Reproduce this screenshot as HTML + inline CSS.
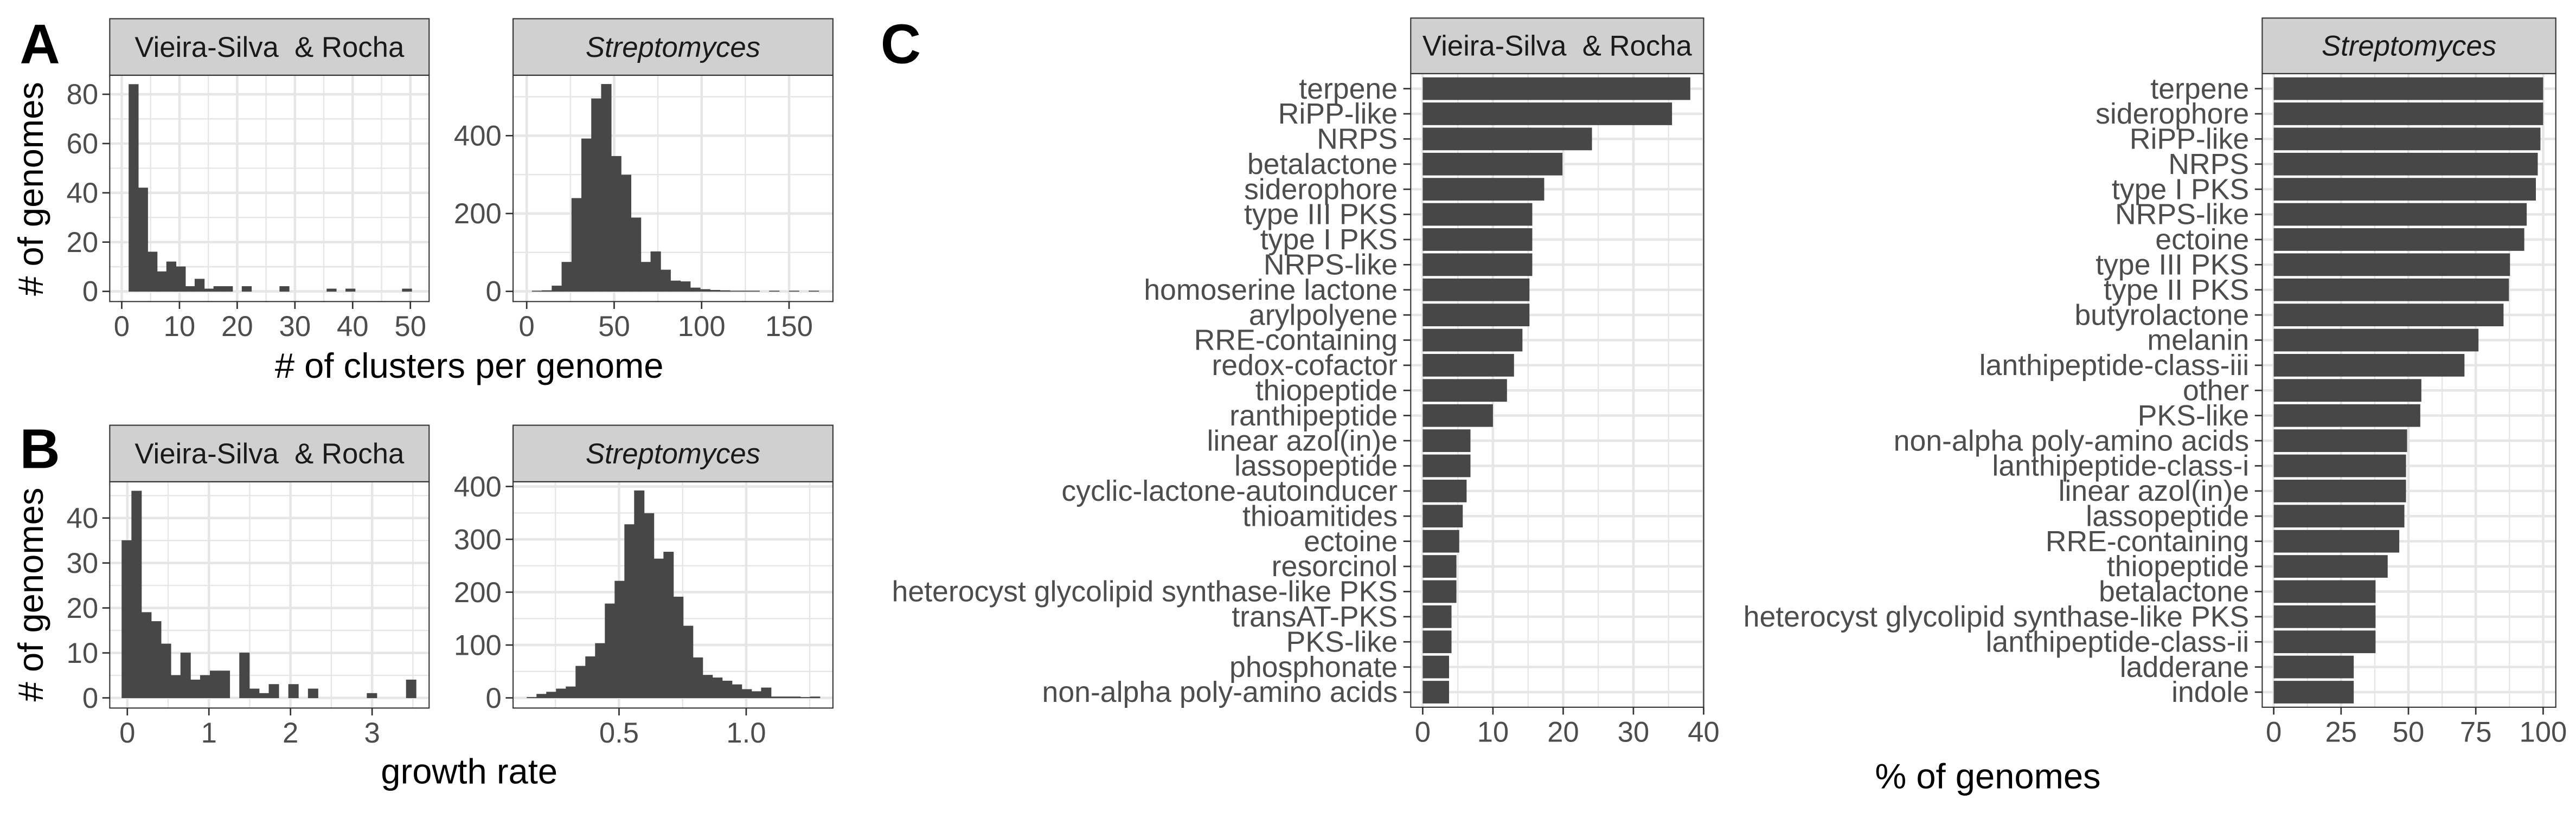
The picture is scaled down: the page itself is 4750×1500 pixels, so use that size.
<!DOCTYPE html>
<html><head><meta charset="utf-8">
<style>
html,body{margin:0;padding:0;background:#fff;}
svg{display:block;}
text{font-family:"Liberation Sans",Arial,sans-serif;white-space:pre;}
</style></head>
<body>
<svg id="fig" xmlns="http://www.w3.org/2000/svg" width="4750" height="1500" viewBox="0 0 1568 495" preserveAspectRatio="none"></svg>
<script>
// ---- Data ----
const aLeftCounts = [84,42,16,8,12,10,2,5,1,2,2,0,2,0,0,0,2,0,0,0,0,1,0,1,0,0,0,0,0,1];
const aRightCounts = [1,2,14,75,239,392,495,532,347,299,189,75,102,55,27,25,9,5,3,2,1,1,1,0,1,0,1,0,1,0];
const bLeftCounts = [35,46,19,17,12,5,10,4,5,6,6,0,10,2,1,3,0,3,0,2,0,0,0,0,0,1,0,0,0,4];
const bRightCounts = [1,7,11,17,21,60,78,103,178,221,328,392,349,263,276,191,136,76,43,38,32,25,16,12,19,2,2,2,1,2];
const cLeftCats = ["terpene","RiPP-like","NRPS","betalactone","siderophore","type III PKS","type I PKS","NRPS-like","homoserine lactone","arylpolyene","RRE-containing","redox-cofactor","thiopeptide","ranthipeptide","linear azol(in)e","lassopeptide","cyclic-lactone-autoinducer","thioamitides","ectoine","resorcinol","heterocyst glycolipid synthase-like PKS","transAT-PKS","PKS-like","phosphonate","non-alpha poly-amino acids"];
const cLeftVals = [38.1,35.5,24.1,19.9,17.3,15.6,15.6,15.6,15.2,15.2,14.2,13.0,12.0,10.0,6.8,6.8,6.25,5.7,5.2,4.8,4.8,4.1,4.1,3.75,3.75];
const cRightCats = ["terpene","siderophore","RiPP-like","NRPS","type I PKS","NRPS-like","ectoine","type III PKS","type II PKS","butyrolactone","melanin","lanthipeptide-class-iii","other","PKS-like","non-alpha poly-amino acids","lanthipeptide-class-i","linear azol(in)e","lassopeptide","RRE-containing","thiopeptide","betalactone","heterocyst glycolipid synthase-like PKS","lanthipeptide-class-ii","ladderane","indole"];
const cRightVals = [100,100,99,98,97.3,93.9,93,87.7,87.3,85.3,76,70.8,54.8,54.4,49.5,49.1,49.1,48.5,46.6,42.3,37.8,37.8,37.8,29.7,29.7];
const aLeftXTicks = [0,10,20,30,40,50];
const aLeftYTicks = [0,20,40,60,80];
const aRightXTicks = [0,50,100,150];
const aRightYTicks = [0,200,400];
const bLeftXTicks = [0,1,2,3];
const bLeftYTicks = [0,10,20,30,40];
const bRightXTicks = [0.5,1.0];
const bRightXLabels = ["0.5","1.0"];
const bRightYTicks = [0,100,200,300,400];
const cLeftXTicks = [0,10,20,30,40];
const cRightXTicks = [0,25,50,75,100];

const NS="http://www.w3.org/2000/svg";
const svg=document.getElementById('fig');
function mk(tag,attrs,name,parent){
  const el=document.createElementNS(NS,tag);
  for(const k in attrs) el.setAttribute(k,attrs[k]);
  
  
  (parent||svg).appendChild(el);
  return el;
}
function txt(x,y,s,attrs,name){
  const el=mk('text',Object.assign({x:x,y:y},attrs),name);
  el.setAttributeNS('http://www.w3.org/XML/1998/namespace','xml:space','preserve');
  el.textContent=s;
  return el;
}
const GRID='#e6e6e6', BAR='#474747', BORDER='#333333', TICKC='#4d4d4d';

function panel(p){
  mk('rect',{x:p.x0,y:p.y0,width:p.x1-p.x0,height:p.y1-p.y0,fill:'#fff'},p.id+'-panel-bg');
  (p.xMinor||[]).forEach(v=>{const x=p.xs(v); if(x>p.x0&&x<p.x1) mk('line',{x1:x,x2:x,y1:p.y0,y2:p.y1,stroke:GRID,'stroke-width':0.8},p.id+'-x-minor-grid');});
  (p.yMinor||[]).forEach(v=>{const y=p.ys(v); if(y>p.y0&&y<p.y1) mk('line',{x1:p.x0,x2:p.x1,y1:y,y2:y,stroke:GRID,'stroke-width':0.8},p.id+'-y-minor-grid');});
  p.xTicks.forEach(v=>{const x=p.xs(v); mk('line',{x1:x,x2:x,y1:p.y0,y2:p.y1,stroke:GRID,'stroke-width':1.5},p.id+'-x-major-grid');});
  (p.yTicks||[]).forEach(v=>{const y=p.ys(v); mk('line',{x1:p.x0,x2:p.x1,y1:y,y2:y,stroke:GRID,'stroke-width':1.5},p.id+'-y-major-grid');});
}
function frame(p,strip,italic){
  mk('rect',{x:p.x0,y:p.y0,width:p.x1-p.x0,height:p.y1-p.y0,fill:'none',stroke:BORDER,'stroke-width':0.7},p.id+'-panel-border');
  mk('rect',{x:p.x0,y:p.sy,width:p.x1-p.x0,height:p.y0-p.sy,fill:'#d0d0d0',stroke:BORDER,'stroke-width':0.7},p.id+'-strip');
  txt((p.x0+p.x1)/2,(p.sy+p.y0)/2+6,strip,{'font-size':17.4,'text-anchor':'middle',fill:'#1a1a1a','font-style':italic?'italic':'normal'},p.id+'-strip-label');
  p.xTicks.forEach((v,i)=>{const x=p.xs(v);
    mk('line',{x1:x,x2:x,y1:p.y1,y2:p.y1+4.5,stroke:BORDER,'stroke-width':0.9},p.id+'-x-tick');
    txt(x,p.y1+21,p.xLabels?p.xLabels[i]:String(v),{'font-size':17.4,'text-anchor':'middle',fill:TICKC},p.id+'-x-tick-label');});
  (p.yTicks||[]).forEach(v=>{const y=p.ys(v);
    mk('line',{x1:p.x0-4.5,x2:p.x0,y1:y,y2:y,stroke:BORDER,'stroke-width':0.9},p.id+'-y-tick');
    txt(p.x0-7,y+6,String(v),{'font-size':17.4,'text-anchor':'end',fill:TICKC},p.id+'-y-tick-label');});
}
function hist(p,counts,start,w){
  panel(p);
  counts.forEach((c,i)=>{ if(c<=0) return;
    const xa=p.xs(start+i*w), xb=p.xs(start+(i+1)*w);
    mk('rect',{x:xa,y:p.ys(c),width:xb-xa,height:p.ys(0)-p.ys(c),fill:BAR,stroke:BAR,'stroke-width':0.3},p.id+'-hist-bar');});
}
function barh(p,cats,vals){
  panel(p);
  const n=cats.length, step=(p.y1-p.y0)/(n+0.2);
  cats.forEach((c,i)=>{const yc=p.y0+(0.6+i)*step;
    mk('line',{x1:p.x0,x2:p.x1,y1:yc,y2:yc,stroke:GRID,'stroke-width':1.5},p.id+'-y-major-grid');});
  cats.forEach((c,i)=>{const yc=p.y0+(0.6+i)*step, h=0.9*step;
    mk('rect',{x:p.xs(0),y:yc-h/2,width:p.xs(vals[i])-p.xs(0),height:h,fill:BAR},p.id+'-bar');
    mk('line',{x1:p.x0-4.5,x2:p.x0,y1:yc,y2:yc,stroke:BORDER,'stroke-width':0.9},p.id+'-y-tick');
    txt(p.x0-8,yc+6,c,{'font-size':17.7,'text-anchor':'end',fill:TICKC},p.id+'-category-label');});
}

// Panel A
const pAL={id:'a-left',x0:66.8,x1:261.2,sy:11.4,y0:45.8,y1:183.6,xs:v=>74.1+v*175.7/50,ys:v=>177.4-v*1.5,
  xTicks:aLeftXTicks,yTicks:aLeftYTicks,xMinor:[5,15,25,35,45],yMinor:[10,30,50,70]};
hist(pAL,aLeftCounts,1.24,1.633); frame(pAL,'Vieira-Silva  & Rocha',false);
const pAR={id:'a-right',x0:312.3,x1:507,sy:11.4,y0:45.8,y1:183.6,xs:v=>320.6+v*159.7/150,ys:v=>177.4-v*94.8/400,
  xTicks:aRightXTicks,yTicks:aRightYTicks,xMinor:[25,75,125],yMinor:[100,300,500]};
hist(pAR,aRightCounts,3.14,5.65); frame(pAR,'Streptomyces',true);
// Panel B
const pBL={id:'b-left',x0:66.8,x1:261.2,sy:258.9,y0:293.3,y1:431.1,xs:v=>77.5+v*149/3,ys:v=>424.9-v*2.7375,
  xTicks:bLeftXTicks,yTicks:bLeftYTicks,xMinor:[0.5,1.5,2.5,3.5],yMinor:[5,15,25,35,45]};
hist(pBL,bLeftCounts,-0.067,0.1202); frame(pBL,'Vieira-Silva  & Rocha',false);
const pBR={id:'b-right',x0:312.3,x1:507,sy:258.9,y0:293.3,y1:431.1,xs:v=>376.8+(v-0.5)*154.8,ys:v=>424.9-v*128.7/400,
  xTicks:bRightXTicks,xLabels:bRightXLabels,yTicks:bRightYTicks,xMinor:[0.25,0.75,1.25],yMinor:[50,150,250,350]};
hist(pBR,bRightCounts,0.138,0.0384); frame(pBR,'Streptomyces',true);
// Panel C
const pCL={id:'c-left',x0:858.7,x1:1037,sy:11,y0:44.8,y1:430.6,xs:v=>866+v*171/40,ys:null,
  xTicks:cLeftXTicks,xMinor:[5,15,25,35]};
barh(pCL,cLeftCats,cLeftVals); frame(pCL,'Vieira-Silva  & Rocha',false);
const pCR={id:'c-right',x0:1377,x1:1555.7,sy:11,y0:44.8,y1:430.6,xs:v=>1384+v*164/100,ys:null,
  xTicks:cRightXTicks,xMinor:[12.5,37.5,62.5,87.5]};
barh(pCR,cRightCats,cRightVals); frame(pCR,'Streptomyces',true);

// Titles
txt(285.6,230,'# of clusters per genome',{'font-size':21.5,'text-anchor':'middle',fill:'#000'},'a-x-axis-title');
txt(285.6,477,'growth rate',{'font-size':21.5,'text-anchor':'middle',fill:'#000'},'b-x-axis-title');
txt(1210,480,'% of genomes',{'font-size':21.5,'text-anchor':'middle',fill:'#000'},'c-x-axis-title');
txt(0,0,'# of genomes',{'font-size':21.5,'text-anchor':'middle',fill:'#000',transform:'translate(26,115) rotate(-90)'},'a-y-axis-title');
txt(0,0,'# of genomes',{'font-size':21.5,'text-anchor':'middle',fill:'#000',transform:'translate(26,362) rotate(-90)'},'b-y-axis-title');
txt(12,38.5,'A',{'font-size':34,'font-weight':'bold',fill:'#000'},'panel-label-a');
txt(12,285,'B',{'font-size':34,'font-weight':'bold',fill:'#000'},'panel-label-b');
txt(536,38.5,'C',{'font-size':34,'font-weight':'bold',fill:'#000'},'panel-label-c');
</script>
</body></html>
